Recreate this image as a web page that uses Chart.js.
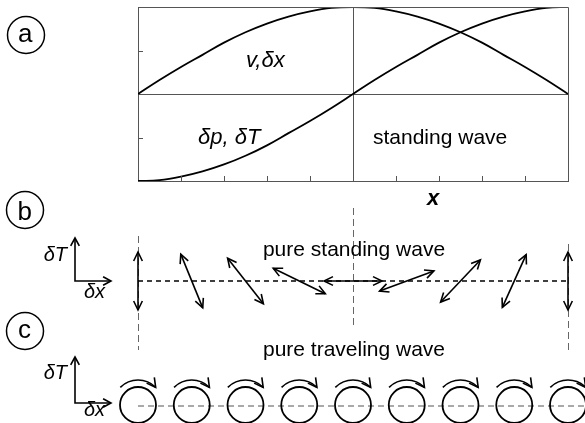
<!DOCTYPE html>
<html><head><meta charset="utf-8">
<style>html,body{margin:0;padding:0;background:#fff;}canvas{display:block}</style>
<script src="https://cdn.jsdelivr.net/npm/chart.js@4/dist/chart.umd.min.js"></script>
</head><body>
<canvas id="c" width="585" height="423"></canvas>
<script>
// ---- panel (a): standing wave profiles along x ----
const xValues  = [0,0.5,1,1.5,2,2.5,3,3.5,4,4.5,5,5.5,6,6.5,7,7.5,8,8.5,9,9.5,10];
const velocity = [0,0.16,0.31,0.45,0.59,0.71,0.81,0.89,0.95,0.99,1.00,0.99,0.95,0.89,0.81,0.71,0.59,0.45,0.31,0.16,0];      // v, δx
const pressure = [-1.00,-0.99,-0.95,-0.89,-0.81,-0.71,-0.59,-0.45,-0.31,-0.16,0,0.16,0.31,0.45,0.59,0.71,0.81,0.89,0.95,0.99,1.00]; // δp, δT
const xTicks = [1,2,3,4,5,6,7,8,9];
const yTicks = [-0.5,0.5];
const centerX = 5, centerY = 0;

// ---- panel (b): pure standing wave, (δx, δT) oscillation directions ----
const stationX  = [0,1.25,2.5,3.75,5,6.25,7.5,8.75,10];
const standDx   = [0,0.38,0.62,0.90,1.00,0.94,0.69,0.41,0];
const standDT   = [-1.00,-0.93,-0.79,-0.44,0,0.35,0.73,0.91,1.00];

// ---- panel (c): pure traveling wave, circular (δx, δT) motion ----
const travelX   = [0,1.25,2.5,3.75,5,6.25,7.5,8.75,10];
const travelDir = [1,1,1,1,1,1,1,1,1]; // 1 = clockwise

const guideX = [0,5,10];

const FONT = "'Liberation Sans', Arial, sans-serif";

function head(ctx, x, y, ang, len, spread){
  ctx.beginPath();
  ctx.moveTo(x - len*Math.cos(ang - spread), y - len*Math.sin(ang - spread));
  ctx.lineTo(x, y);
  ctx.lineTo(x - len*Math.cos(ang + spread), y - len*Math.sin(ang + spread));
  ctx.stroke();
}
function text(ctx, s, x, y, font, align){
  ctx.font = font; ctx.textAlign = align || 'left'; ctx.textBaseline = 'alphabetic';
  ctx.fillText(s, x, y);
}
function circLabel(ctx, letter, cx, cy){
  ctx.lineWidth = 1.5;
  ctx.beginPath(); ctx.arc(cx, cy, 18.5, 0, Math.PI*2); ctx.stroke();
  ctx.font = "26px " + FONT; ctx.textAlign = 'left'; ctx.textBaseline = 'alphabetic';
  const m = ctx.measureText(letter);
  const w = m.actualBoundingBoxRight + m.actualBoundingBoxLeft;
  ctx.fillText(letter, cx - w/2 + m.actualBoundingBoxLeft, cy + (m.actualBoundingBoxAscent - m.actualBoundingBoxDescent)/2);
}
function axisIcon(ctx, ox, oy, topY, rightX, yT, yX){
  ctx.lineWidth = 1.6;
  ctx.beginPath(); ctx.moveTo(ox, topY); ctx.lineTo(ox, oy); ctx.lineTo(rightX, oy); ctx.stroke();
  head(ctx, ox, topY, -Math.PI/2, 9, 0.5);
  head(ctx, rightX, oy, 0, 9, 0.5);
  text(ctx, 'δT', 67, yT, "italic 20px " + FONT, 'right');
  text(ctx, 'δx', 84, yX, "italic 20px " + FONT, 'left');
}

const overlay = {
  id: 'overlay',
  afterDraw(chart){
    const ctx = chart.ctx, xs = chart.scales.x, ys = chart.scales.y, a = chart.chartArea;
    ctx.save();
    ctx.strokeStyle = '#555'; ctx.lineWidth = 1;
    // top and right frame
    ctx.beginPath();
    ctx.moveTo(a.left, a.top + 0.5); ctx.lineTo(a.right + 0.5, a.top + 0.5); ctx.lineTo(a.right + 0.5, a.bottom);
    ctx.stroke();
    // inward ticks
    ctx.beginPath();
    xTicks.forEach(v => { const p = Math.round(xs.getPixelForValue(v)) + 0.5; ctx.moveTo(p, a.bottom); ctx.lineTo(p, a.bottom - 5); });
    yTicks.forEach(v => { const p = Math.round(ys.getPixelForValue(v)) + 0.5; ctx.moveTo(a.left, p); ctx.lineTo(a.left + 5, p); });
    ctx.stroke();

    ctx.fillStyle = '#000'; ctx.strokeStyle = '#000';
    // panel (a) labels
    text(ctx, 'v,δx', 246, 67, "italic 22px " + FONT);
    text(ctx, 'δp, δT', 198, 144, "italic 22px " + FONT);
    text(ctx, 'standing wave', 373, 144, "21px " + FONT);
    text(ctx, 'x', 433, 205, "italic bold 22px " + FONT, 'center');

    // circled panel letters
    ctx.strokeStyle = '#000';
    circLabel(ctx, 'a', 26, 35);
    circLabel(ctx, 'b', 25, 210);
    circLabel(ctx, 'c', 25, 331);

    // vertical guide lines
    ctx.strokeStyle = '#666'; ctx.lineWidth = 1; ctx.setLineDash([7,4]);
    const guideSpan = [[236,350],[208,326],[244,350]];
    guideX.forEach((v,i) => {
      const p = Math.round(xs.getPixelForValue(v)) + 0.5;
      ctx.beginPath(); ctx.moveTo(p, guideSpan[i][0]); ctx.lineTo(p, guideSpan[i][1]); ctx.stroke();
    });

    // panel (b)
    const yb = 281;
    ctx.strokeStyle = '#000'; ctx.lineWidth = 1.5; ctx.setLineDash([5,4]);
    ctx.beginPath(); ctx.moveTo(xs.getPixelForValue(0), yb); ctx.lineTo(xs.getPixelForValue(10), yb); ctx.stroke();
    ctx.setLineDash([]);
    text(ctx, 'pure standing wave', 354, 256, "21px " + FONT, 'center');
    axisIcon(ctx, 75, yb, 238, 111, 261, 298);
    const L = 29;
    stationX.forEach((v,i) => {
      const cx = xs.getPixelForValue(v);
      const n = Math.hypot(standDx[i], standDT[i]);
      const ux = standDx[i]/n, uy = -standDT[i]/n;
      const x1 = cx - ux*L, y1 = yb - uy*L, x2 = cx + ux*L, y2 = yb + uy*L;
      ctx.lineWidth = 1.6;
      ctx.beginPath(); ctx.moveTo(x1,y1); ctx.lineTo(x2,y2); ctx.stroke();
      const ang = Math.atan2(uy, ux);
      head(ctx, x2, y2, ang, 10, 0.45);
      head(ctx, x1, y1, ang + Math.PI, 10, 0.45);
    });

    // panel (c)
    const yc = 405;
    ctx.strokeStyle = '#555'; ctx.lineWidth = 1; ctx.setLineDash([6,4]);
    ctx.beginPath(); ctx.moveTo(xs.getPixelForValue(0), yc + 1); ctx.lineTo(585, yc + 1); ctx.stroke();
    ctx.setLineDash([]);
    ctx.strokeStyle = '#000';
    text(ctx, 'pure traveling wave', 354, 356, "21px " + FONT, 'center');
    axisIcon(ctx, 75, 403, 357, 111, 379, 416);
    travelX.forEach((v,i) => {
      const cx = xs.getPixelForValue(v);
      ctx.lineWidth = 1.8;
      ctx.beginPath(); ctx.arc(cx, yc, 18, 0, Math.PI*2); ctx.stroke();
      const R = 25, a0 = -3*Math.PI/4, a1 = -Math.PI/4;
      ctx.lineWidth = 1.6;
      ctx.beginPath(); ctx.arc(cx, yc, R, a0, a1, travelDir[i] < 0); ctx.stroke();
      const ex = cx + R*Math.cos(a1), ey = yc + R*Math.sin(a1);
      head(ctx, ex, ey, a1 + Math.PI/2 + 0.15, 10, 0.5);
    });
    ctx.restore();
  }
};

new Chart(document.getElementById('c'), {
  type: 'line',
  data: {
    labels: xValues,
    datasets: [
      { label: 'v, δx', data: xValues.map((x,i) => ({x, y: velocity[i]})), borderColor: '#000', borderWidth: 1.8, pointRadius: 0, tension: 0.4, fill: false },
      { label: 'δp, δT', data: xValues.map((x,i) => ({x, y: pressure[i]})), borderColor: '#000', borderWidth: 1.8, pointRadius: 0, tension: 0.4, fill: false }
    ]
  },
  options: {
    responsive: false, devicePixelRatio: 1, animation: false,
    layout: { padding: { left: 138, right: 17, top: 7, bottom: 242 } },
    plugins: { legend: { display: false }, tooltip: { enabled: false } },
    scales: {
      x: { type: 'linear', min: 0, max: 10,
           ticks: { display: false, stepSize: 1 },
           border: { display: true, color: '#555', width: 1 },
           grid: { drawTicks: false, color: c => (c.tick && c.tick.value === centerX) ? '#555' : 'rgba(0,0,0,0)' } },
      y: { type: 'linear', min: -1, max: 1,
           ticks: { display: false, stepSize: 0.5 },
           border: { display: true, color: '#555', width: 1 },
           grid: { drawTicks: false, color: c => (c.tick && c.tick.value === centerY) ? '#555' : 'rgba(0,0,0,0)' } }
    }
  },
  plugins: [overlay]
});
</script>
</body></html>
